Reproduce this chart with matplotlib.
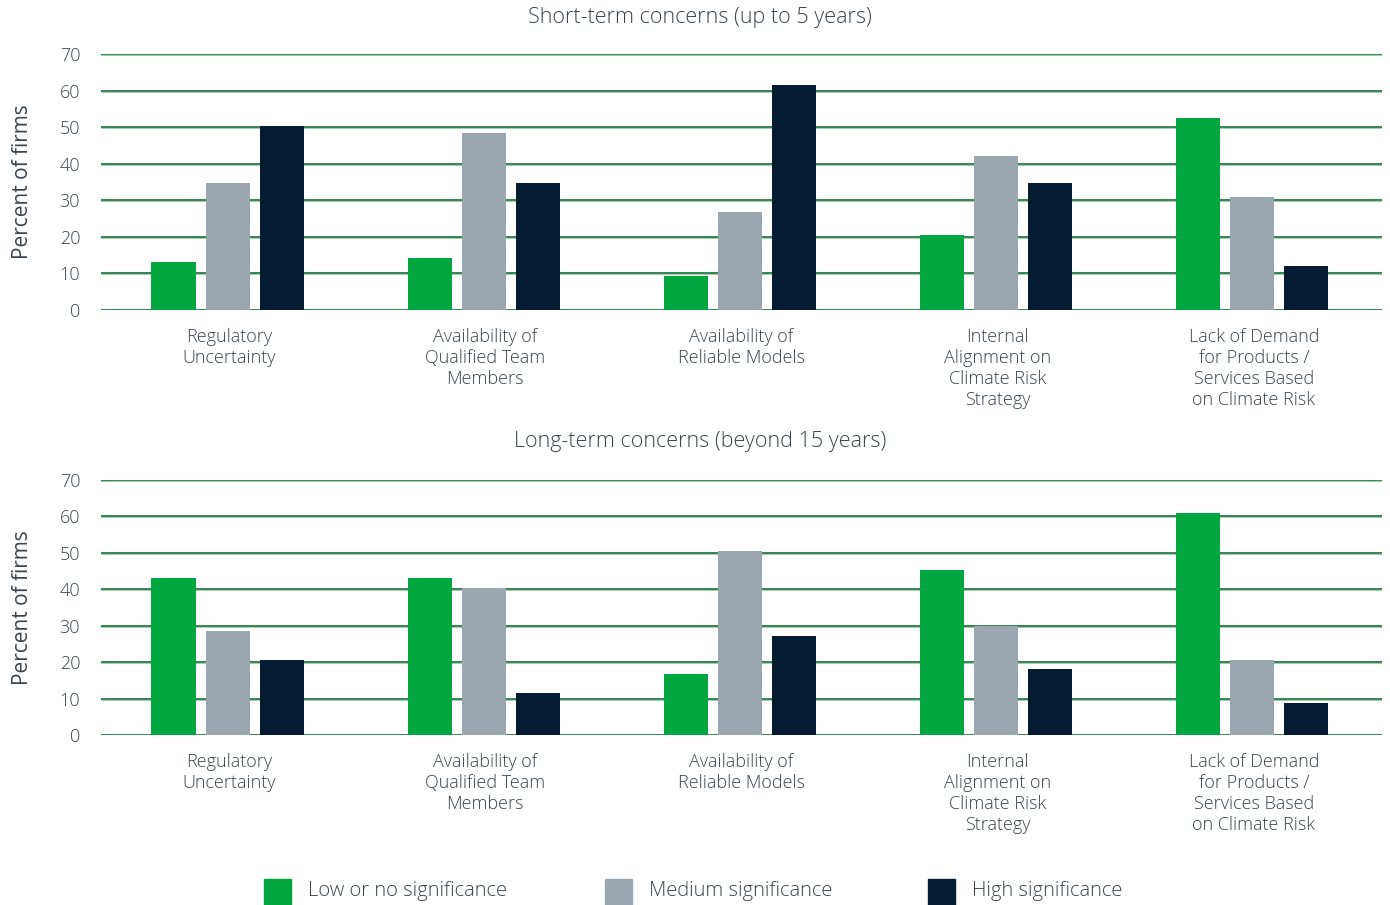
import matplotlib
matplotlib.use("Agg")
import matplotlib.pyplot as plt
from matplotlib.patches import Rectangle
import numpy as np

plt.rcParams['font.family'] = ['Open Sans', 'DejaVu Sans']
plt.rcParams['font.weight'] = 'light'

categories = ["Regulatory\nUncertainty",
              "Availability of\nQualified Team\nMembers",
              "Availability of\nReliable Models",
              "Internal\nAlignment on\nClimate Risk\nStrategy",
              "Lack of Demand\nfor Products /\nServices Based\non Climate Risk"]
series_names = ["Low or no significance", "Medium significance", "High significance"]
colors = ["#00a73f", "#9ba7ae", "#041b32"]

short_low = [13.1, 14.2, 9.3, 20.5, 52.5]
short_med = [34.7, 48.4, 26.8, 42.1, 30.9]
short_high = [50.3, 34.7, 61.5, 34.7, 12.0]

long_low = [43.1, 43.1, 16.7, 45.3, 60.9]
long_med = [28.5, 40.4, 50.5, 29.9, 20.6]
long_high = [20.6, 11.5, 27.2, 18.1, 8.8]

titles = ["Short-term concerns (up to 5 years)", "Long-term concerns (beyond 15 years)"]
yticks = [0, 10, 20, 30, 40, 50, 60, 70]

text_color = "#3a434b"
grid_color = "#1e6e3e"

fig = plt.figure(figsize=(13.9, 9.05), dpi=100)
W, H = 1390, 905

def add_axes(top_px, bottom_px):
    return fig.add_axes([101 / W, 1 - bottom_px / H, (1382 - 101) / W, (bottom_px - top_px) / H])

ax1 = add_axes(54, 310)
ax2 = add_axes(480, 735)

x = np.arange(len(categories))
bw = 0.172
off = 0.211

for ax, data, title, ty in [(ax1, [short_low, short_med, short_high], titles[0], 17),
                            (ax2, [long_low, long_med, long_high], titles[1], 441)]:
    for i, (vals, c) in enumerate(zip(data, colors)):
        ax.bar(x - 0.006 + (i - 1) * off, vals, width=bw, color=c, zorder=3)
    ax.set_xlim(-0.5, len(categories) - 0.5)
    ax.set_ylim(0, 70)
    ax.set_yticks(yticks)
    ax.set_yticklabels([str(t) for t in yticks])
    for t in yticks:
        ax.axhline(t, color="#9fd1b0", lw=2.2, zorder=1)
        ax.axhline(t, color=grid_color, lw=1.1, zorder=2)
    for s in ax.spines.values():
        s.set_visible(False)
    ax.tick_params(axis='y', length=0, pad=15, labelsize=13, labelcolor=text_color)
    ax.tick_params(axis='x', length=0, pad=13)
    ax.set_xticks(x)
    ax.set_xticklabels(categories, fontsize=13, color=text_color, linespacing=1.22, va='top')
    ax.set_ylabel("Percent of firms", fontsize=15, color=text_color, labelpad=19)
    fig.text(700 / W, 1 - ty / H, title, ha='center', va='center', fontsize=15.5, color=text_color)

# legend
leg_x = [264, 605, 928]
for lx, name, c in zip(leg_x, series_names, colors):
    fig.patches.append(Rectangle((lx / W, 0.0), 27 / W, 26 / H,
                                 transform=fig.transFigure, color=c, figure=fig))
    fig.text((lx + 44) / W, 1 - 891 / H, name, ha='left', va='center', fontsize=14.5, color=text_color)

fig.savefig("out.png", dpi=100)
